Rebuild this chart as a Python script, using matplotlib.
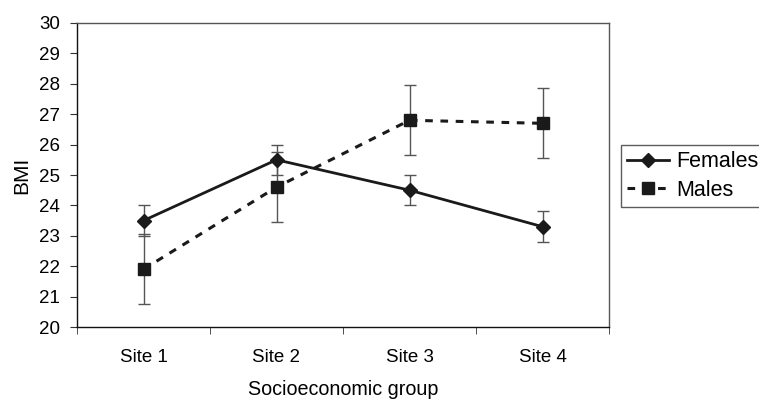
import numpy as np
import matplotlib.pyplot as plt

plt.rcParams['font.family'] = ['Liberation Sans', 'DejaVu Sans']

sites = ['Site 1', 'Site 2', 'Site 3', 'Site 4']
females = [23.5, 25.5, 24.5, 23.3]
females_err = [0.5, 0.5, 0.5, 0.5]
males = [21.9, 24.6, 26.8, 26.7]
males_err = [1.15, 1.15, 1.15, 1.15]

fig = plt.figure(figsize=(7.59, 3.99), dpi=100)
ax = fig.add_axes([77 / 759, 1 - 327 / 399, 532 / 759, 304 / 399])

x = np.arange(len(sites))

ax.errorbar(x, females, yerr=females_err, fmt='none', ecolor='#555555',
            elinewidth=1, capsize=4, capthick=1, zorder=2)
ax.errorbar(x, males, yerr=males_err, fmt='none', ecolor='#555555',
            elinewidth=1, capsize=4, capthick=1, zorder=2)
ax.plot(x, females, color='#1a1a1a', lw=2, marker='D', markersize=7.5,
        label='Females', zorder=3)
ax.plot(x, males, color='#1a1a1a', lw=2.2, ls=(0, (2.5, 2.5)), marker='s',
        markersize=9, label='Males', zorder=3)

ax.set_xlim(-0.5, 3.5)
ax.set_ylim(20, 30)
ax.set_yticks(range(20, 31))
ax.set_xticks(x)
ax.set_xticklabels(sites)
ax.set_xticks(np.arange(-0.5, 4, 1), minor=True)
ax.tick_params(axis='x', which='major', length=0, pad=16, labelsize=13.5)
ax.tick_params(axis='x', which='minor', length=5, direction='out', color='#333333')
ax.tick_params(axis='y', length=5, direction='out', labelsize=13.5, pad=7,
               color='#333333')

for s in ['top', 'right']:
    ax.spines[s].set_color('#555555')
for s in ['left', 'bottom']:
    ax.spines[s].set_color('#111111')
for s in ax.spines.values():
    s.set_linewidth(1)

ax.set_ylabel('BMI', fontsize=15, labelpad=6)
ax.set_xlabel('Socioeconomic group', fontsize=14.2, labelpad=10)

leg = ax.legend(loc='upper left', bbox_to_anchor=(621 / 759, 1 - 145 / 399),
                bbox_transform=fig.transFigure, frameon=True, fancybox=False,
                edgecolor='#333333', fontsize=15.5, handlelength=1.95,
                borderaxespad=0, borderpad=0.3, labelspacing=0.35,
                handletextpad=0.3, markerscale=0.9)
leg.get_frame().set_linewidth(1)

fig.savefig('out.png', dpi=100)
